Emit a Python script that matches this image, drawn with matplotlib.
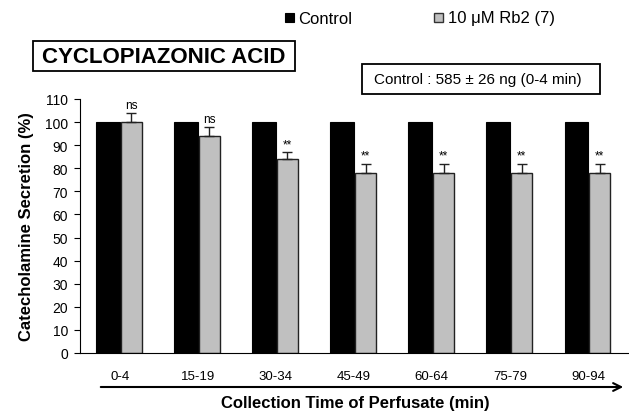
import matplotlib.pyplot as plt
from matplotlib.patches import Rectangle, FancyArrowPatch
import numpy as np

plt.rcParams['font.family'] = ['Liberation Sans', 'DejaVu Sans']

# data
periods = ['0-4', '15-19', '30-34', '45-49', '60-64', '75-79', '90-94']
control = [100, 100, 100, 100, 100, 100, 100]
rb2 = [100, 94, 84, 78, 78, 78, 78]
rb2_err = [4, 4, 3, 4, 4, 4, 4]
signif = ['ns', 'ns', '**', '**', '**', '**', '**']

W, H = 629, 414
fig = plt.figure(figsize=(W / 100, H / 100), dpi=100)
ax = fig.add_axes([0.127, 0.145, 0.871, 0.6135])

def fx(px):
    return px / W

def fy(py):
    return 1 - py / H

x = np.arange(len(periods))
w = 0.3
ax.bar(x - w / 2, control, w, color='black', edgecolor='black', linewidth=0.8, label='Control')
ax.bar(x + w / 2, rb2, w * 0.92, color='#c0c0c0', edgecolor='#222222', linewidth=1.0,
       label='10 μM Rb2 (7)')
ax.errorbar(x + w / 2, rb2, yerr=[np.zeros(len(rb2)), rb2_err], fmt='none',
            ecolor='#222222', elinewidth=1.0, capsize=3.5, capthick=1.0)

for xi, v, e, s in zip(x, rb2, rb2_err, signif):
    ax.text(xi + w / 2, v + e + 0.8, s, ha='center', va='bottom', fontsize=8.5)

ax.set_xlim(-0.51, 6.51)
ax.set_ylim(0, 110)
ax.set_yticks(range(0, 111, 10))
ax.set_xticks(x)
ax.set_xticklabels(periods, fontsize=9.5)
ax.tick_params(axis='x', length=0, pad=12)
ax.tick_params(axis='y', labelsize=10, direction='out', length=4.5, pad=4)
ax.spines['top'].set_visible(False)
ax.spines['right'].set_visible(False)
ax.set_ylabel('Catecholamine Secretion (%)', fontsize=12, fontweight='bold', labelpad=8)

# legend at top
fig.add_artist(Rectangle((fx(285), fy(23)), fx(9), 9 / H, transform=fig.transFigure,
                         facecolor='black', edgecolor='black', linewidth=0.8))
fig.text(fx(298), fy(19), 'Control', fontsize=12, ha='left', va='center')
fig.add_artist(Rectangle((fx(434), fy(23)), fx(9), 9 / H, transform=fig.transFigure,
                         facecolor='#c0c0c0', edgecolor='#333333', linewidth=1.0))
fig.text(fx(448), fy(19), '10 μM Rb2 (7)', fontsize=12, ha='left', va='center')

# title box
fig.add_artist(Rectangle((fx(33), fy(72)), fx(262), 30 / H, transform=fig.transFigure,
                         facecolor='white', edgecolor='black', linewidth=1.3))
fig.text(fx(164), fy(57.5), 'CYCLOPIAZONIC ACID', fontsize=16, fontweight='bold',
         ha='center', va='center')

# control info box
fig.add_artist(Rectangle((fx(362), fy(95)), fx(238), 30 / H, transform=fig.transFigure,
                         facecolor='white', edgecolor='black', linewidth=1.3))
fig.text(fx(478), fy(80), 'Control : 585 ± 26 ng (0-4 min)', fontsize=11,
         ha='center', va='center')

# arrow under x labels
fig.add_artist(FancyArrowPatch((fx(98), fy(388)), (fx(626), fy(388)),
               transform=fig.transFigure, arrowstyle='->', mutation_scale=14, linewidth=1.5,
               color='black'))
fig.text(fx(355), fy(404), 'Collection Time of Perfusate (min)', fontsize=12, fontweight='bold',
         ha='center', va='center')

fig.savefig('out.png', dpi=100)
